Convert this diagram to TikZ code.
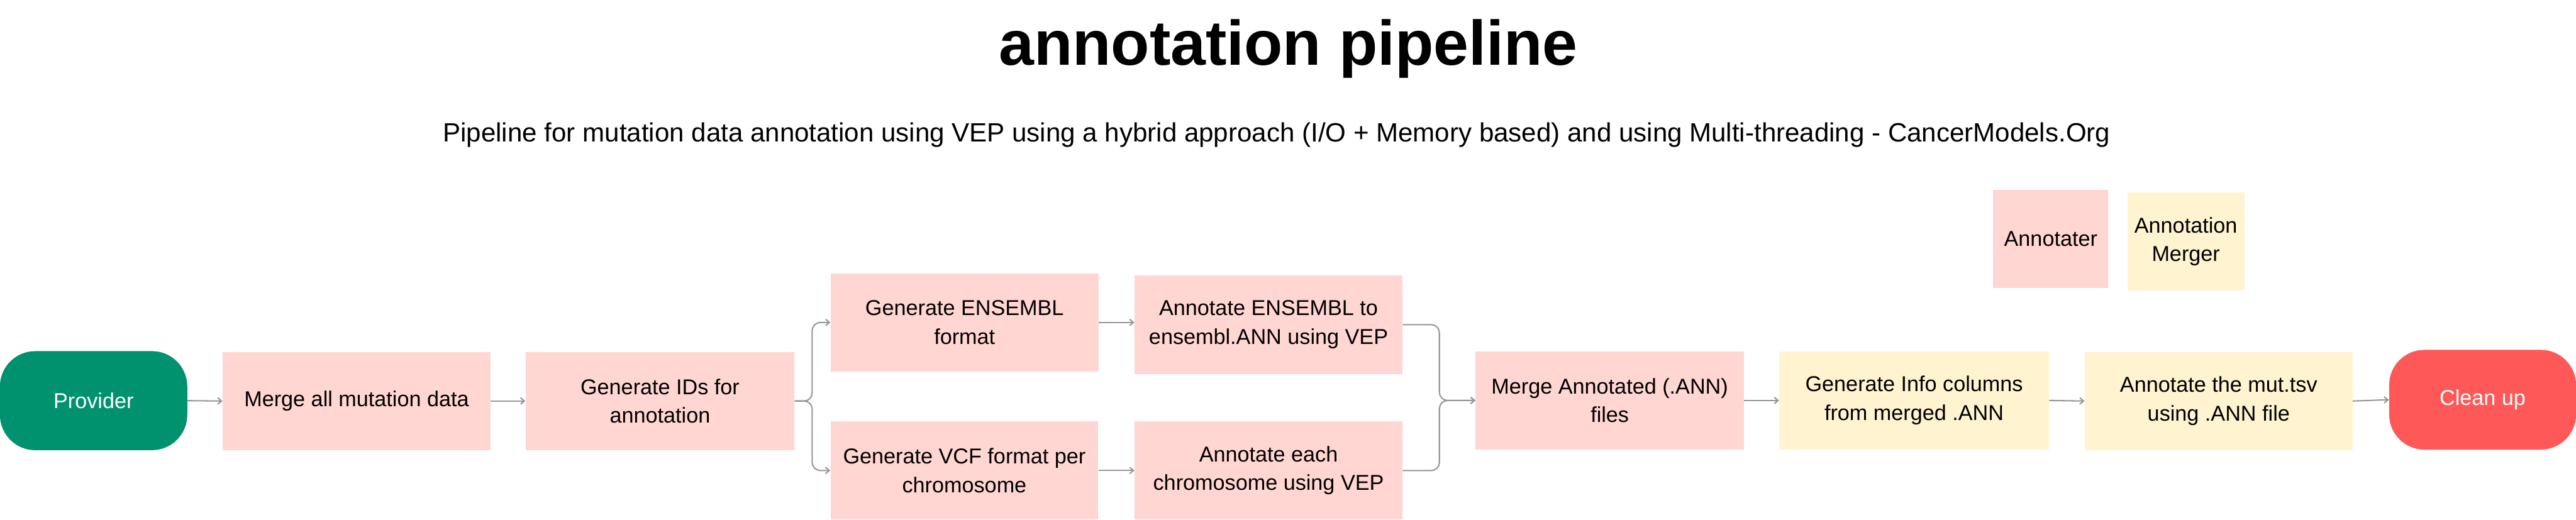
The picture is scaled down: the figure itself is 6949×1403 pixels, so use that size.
\documentclass[tikz,border=0pt]{standalone}
\usepackage{fontspec}
\setmainfont{Liberation Sans}
\usetikzlibrary{arrows.meta}
\definecolor{pinkbox}{RGB}{255,214,210}
\definecolor{yellowbox}{RGB}{255,243,208}
\definecolor{provgreen}{RGB}{0,145,110}
\definecolor{cleanred}{RGB}{255,88,88}
\definecolor{linegray}{RGB}{150,150,150}
\tikzset{
  box/.style={inner sep=0pt, align=center, font=\fontsize{16.5}{22}\selectfont, text=black},
  annot/.style={box, fill=pinkbox, minimum width=7.22cm, minimum height=2.65cm},
  merger/.style={box, fill=yellowbox, minimum width=7.24cm, minimum height=2.65cm},
  terminal/.style={box, text=white, rounded corners=0.95cm, minimum width=5.05cm, minimum height=2.67cm},
  conn/.style={draw=linegray, line width=0.035cm, rounded corners=0.22cm,
    -{Straight Barb[length=0.1cm, width=0.17cm, line width=0.035cm]}},
}
\begin{document}
\begin{tikzpicture}[x=0.01cm, y=-0.01cm]
\useasboundingbox (0,0) rectangle (6949,1403);
\fill[white] (0,0) rectangle (6949,1403);

\node[anchor=base, inner sep=0pt, font=\fontsize{48.4}{58}\selectfont\bfseries] (title) at (3475,175) {annotation pipeline};
\node[anchor=base, inner sep=0pt, font=\fontsize{20.3}{26}\selectfont] (subtitle) at (3444,382) {Pipeline for mutation data annotation using VEP using a hybrid approach (I/O + Memory based) and using Multi-threading - CancerModels.Org};

\node[annot, minimum width=3.10cm, minimum height=2.64cm] (leg1) at (5532,645) {Annotater};
\node[merger, minimum width=3.15cm, minimum height=2.64cm] (leg2) at (5896.5,652) {Annotation\\Merger};

\node[terminal, fill=provgreen] (prov) at (252.5,1081) {Provider};
\node[annot] (merge) at (962,1082) {Merge all mutation data};
\node[annot, minimum width=7.25cm] (ids) at (1780.5,1082) {Generate IDs for\\annotation};
\node[annot] (gens) at (2602,870) {Generate ENSEMBL\\format};
\node[annot] (annE) at (3422,876) {Annotate ENSEMBL to\\ensembl.ANN using VEP};
\node[annot] (vcf) at (2601.5,1269.5) {Generate VCF format per\\chromosome};
\node[annot] (annC) at (3422,1269.5) {Annotate each\\chromosome using VEP};
\node[annot, minimum width=7.23cm] (mergeA) at (4342.5,1080.5) {Merge Annotated (.ANN)\\files};
\node[merger, minimum width=7.27cm] (info) at (5163.5,1080.5) {Generate Info columns\\from merged .ANN};
\node[merger, minimum width=7.22cm] (mut) at (5985,1082) {Annotate the mut.tsv\\using .ANN file};
\node[terminal, fill=cleanred, minimum width=5.04cm, minimum height=2.69cm] (clean) at (6697,1078.5) {Clean up};

\draw[conn] (prov.east) -- (merge.west);
\draw[conn] (merge.east) -- (ids.west);
\draw[conn] (ids.east) -- ++(47,0) |- (gens.west);
\draw[conn] (ids.east) -- ++(47,0) |- (vcf.west);
\draw[conn] (gens.east) -- (gens.east -| annE.west);
\draw[conn] (vcf.east) -- (annC.west);
\draw[conn] (annE.east) -- ++(99,0) |- (mergeA.west);
\draw[conn] (annC.east) -- ++(99,0) |- (mergeA.west);
\draw[conn] (mergeA.east) -- (info.west);
\draw[conn] (info.east) -- (mut.west);
\draw[conn] (mut.east) -- (clean.west);
\end{tikzpicture}
\end{document}
